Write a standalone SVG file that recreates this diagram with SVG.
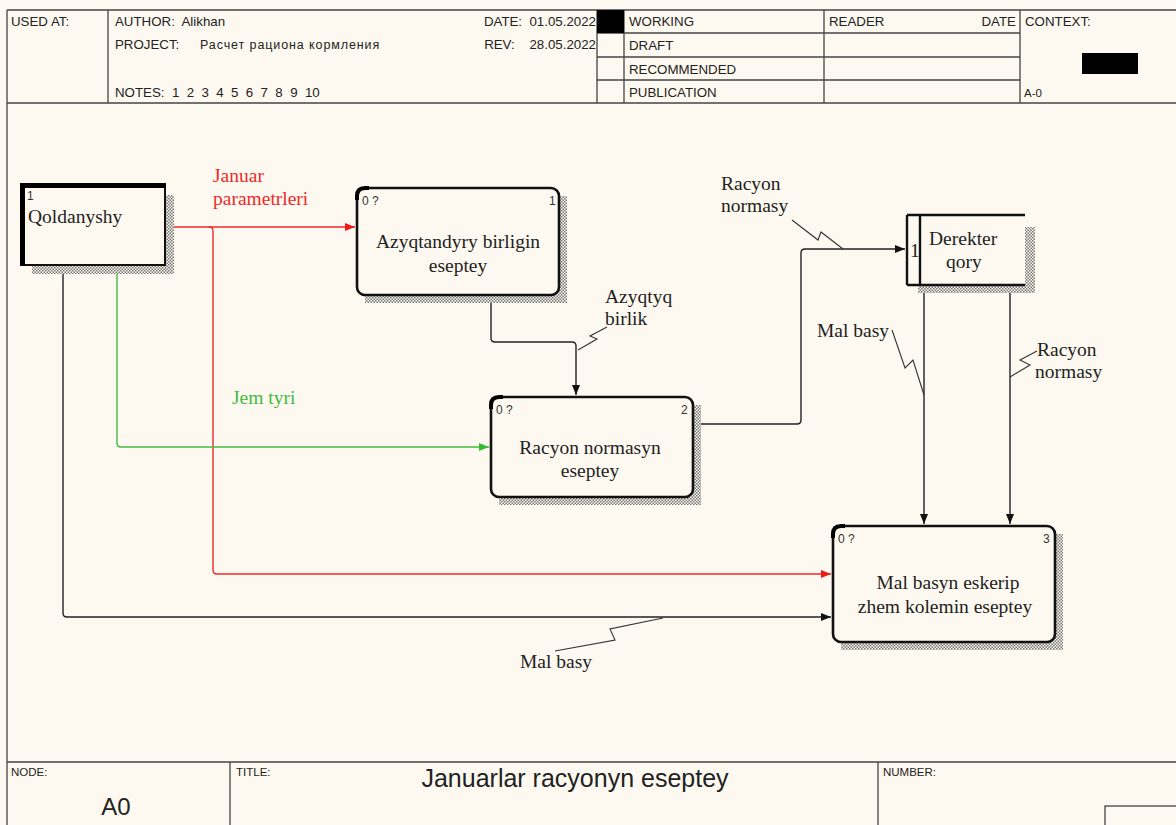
<svg xmlns="http://www.w3.org/2000/svg" width="1176" height="825" viewBox="0 0 1176 825">
<style>
text{white-space:pre}
.hdr{font-family:"Liberation Sans",Arial,sans-serif;font-size:13.3px;fill:#222}
.sm{font-family:"Liberation Sans",Arial,sans-serif;font-size:11.5px;fill:#222}
.ru{font-family:"Liberation Sans",Arial,sans-serif;font-size:12.5px;fill:#222;letter-spacing:0.9px}
.lbl{font-family:"Liberation Serif","Times New Roman",serif;font-size:19.5px;fill:#222}
.nt{font-family:"Liberation Serif","Times New Roman",serif;font-size:19.5px;fill:#222}
.num{font-family:"Liberation Sans",Arial,sans-serif;font-size:12px;fill:#333}
.frame{stroke:#444;stroke-width:1.3;fill:none}
.box{fill:#FDF9F0;stroke:#111;stroke-width:2.6}
.c{fill:none;stroke-width:1.4}
.k{stroke:#222}
.r{stroke:#EE2A2A}
.g{stroke:#44BB44}
.sq{fill:none;stroke:#333;stroke-width:1.1}
</style>
<defs>
<pattern id="hatch" width="3" height="3" patternUnits="userSpaceOnUse">
<rect width="3" height="3" fill="#FDF9F0"/>
<rect width="1.5" height="1.5" fill="#777"/>
<rect x="1.5" y="1.5" width="1.5" height="1.5" fill="#777"/>
</pattern>
<marker id="ak" viewBox="0 0 10 8" refX="10" refY="4" markerWidth="10" markerHeight="8" markerUnits="userSpaceOnUse" orient="auto"><path d="M0,0 L10,4 L0,8 Z" fill="#111"/></marker>
<marker id="ar" viewBox="0 0 10 8" refX="10" refY="4" markerWidth="10" markerHeight="8" markerUnits="userSpaceOnUse" orient="auto"><path d="M0,0 L10,4 L0,8 Z" fill="#EE1A1A"/></marker>
<marker id="ag" viewBox="0 0 10 8" refX="10" refY="4" markerWidth="10" markerHeight="8" markerUnits="userSpaceOnUse" orient="auto"><path d="M0,0 L10,4 L0,8 Z" fill="#33BB33"/></marker>
</defs>
<rect width="1176" height="825" fill="#FDF9F0"/>
<g id="header">
<path class="frame" d="M7,10 H1176 M7,10 V825 M7,103 H1176 M108,10 V103 M597,10 V103 M624,10 V103 M824,10 V103 M1020,10 V103 M597,33 H1020 M597,57 H1020 M597,80 H1020"/>
<rect x="597" y="10" width="27" height="23" fill="#000"/>
<rect x="1082" y="53" width="56" height="21" fill="#000"/>
<text class="hdr" x="11" y="26">USED AT:</text>
<text class="hdr" x="115" y="26">AUTHOR:  Alikhan</text>
<text class="hdr" x="115" y="49">PROJECT:</text>
<text class="ru" x="200" y="49">Расчет рациона кормления</text>
<text class="hdr" x="115" y="97">NOTES:  1  2  3  4  5  6  7  8  9  10</text>
<text class="hdr" x="596" y="26" text-anchor="end">DATE:  01.05.2022</text>
<text class="hdr" x="596" y="49" text-anchor="end">REV:    28.05.2022</text>
<text class="hdr" x="629" y="26">WORKING</text>
<text class="hdr" x="629" y="50">DRAFT</text>
<text class="hdr" x="629" y="74">RECOMMENDED</text>
<text class="hdr" x="629" y="97">PUBLICATION</text>
<text class="hdr" x="829" y="26">READER</text>
<text class="hdr" x="1016" y="26" text-anchor="end">DATE</text>
<text class="hdr" x="1025" y="26">CONTEXT:</text>
<text class="sm" x="1024" y="97">A-0</text>
</g>
<g id="footer">
<path class="frame" d="M7,762 H1176 M230,762 V825 M878,762 V825"/>
<rect x="1105" y="806" width="80" height="30" fill="none" stroke="#444" stroke-width="1.3"/>
<text class="sm" x="11" y="776">NODE:</text>
<text class="sm" x="236" y="776">TITLE:</text>
<text class="sm" x="883" y="776">NUMBER:</text>
<text x="575" y="787" text-anchor="middle" font-family="Liberation Sans,Arial,sans-serif" font-size="25" fill="#222">Januarlar racyonyn eseptey</text>
<text x="116" y="815" text-anchor="middle" font-family="Liberation Sans,Arial,sans-serif" font-size="24" fill="#222">A0</text>
</g>
<g id="connectors">
<path class="c r" d="M166,227 H355" marker-end="url(#ar)"/>
<path class="c r" d="M209,227 Q213,227 213,231 V570 Q213,574 217,574 H831" marker-end="url(#ar)"/>
<path class="c g" d="M117,266 V443 Q117,447 121,447 H489" marker-end="url(#ag)"/>
<path class="c k" d="M63,266 V613 Q63,617 67,617 H831" marker-end="url(#ak)"/>
<path class="c k" d="M491,295 V338 Q491,342 495,342 H572 Q576,342 576,346 V395" marker-end="url(#ak)"/>
<path class="c k" d="M693,424 H797 Q801,424 801,420 V253 Q801,249 805,249 H905" marker-end="url(#ak)"/>
<path class="c k" d="M924,285 V524" marker-end="url(#ak)"/>
<path class="c k" d="M1010,285 V524" marker-end="url(#ak)"/>
<path class="sq" d="M578,350 L597,339 L590,336 L607,327"/>
<path class="sq" d="M792,220 L818,240 L821,232 L843,249"/>
<path class="sq" d="M892,330 L905,368 L913,360 L924,395"/>
<path class="sq" d="M1037,351 L1020,360 L1030,365 L1010,377"/>
<path class="sq" d="M663,618 L610,629 L615,640 L555,651"/>
<text class="lbl" x="213" y="182" style="fill:#EE2A2A">Januar</text>
<text class="lbl" x="213" y="205" style="fill:#EE2A2A">parametrleri</text>
<text class="lbl" x="232" y="404" style="fill:#44BB44">Jem tyri</text>
<text class="lbl" x="605" y="303">Azyqtyq</text>
<text class="lbl" x="605" y="325">birlik</text>
<text class="lbl" x="721" y="190">Racyon</text>
<text class="lbl" x="721" y="212">normasy</text>
<text class="lbl" x="817" y="337">Mal basy</text>
<text class="lbl" x="1037" y="356">Racyon</text>
<text class="lbl" x="1035" y="378">normasy</text>
<text class="lbl" x="520" y="668">Mal basy</text>
</g>
<g id="qoldanyshy">
<rect x="166" y="195" width="8" height="79" fill="url(#hatch)"/>
<rect x="32" y="266" width="142" height="8" fill="url(#hatch)"/>
<rect x="22" y="185" width="143" height="80" fill="#FDF9F0" stroke="#111" stroke-width="2"/>
<path d="M20,185.5 H166 M22.5,183 V266" stroke="#000" stroke-width="5" fill="none"/>
<text class="num" x="27" y="200">1</text>
<text class="nt" x="28" y="223">Qoldanyshy</text>
</g>
<g id="box1">
<rect x="365" y="196" width="202" height="107" fill="url(#hatch)"/>
<rect class="box" x="357" y="188" width="202" height="107" rx="8"/>
<path d="M357,200 V196 Q357,188 365,188 H369" stroke="#000" stroke-width="4" fill="none"/>
<text class="num" x="362" y="205">0 ?</text>
<text class="num" x="549" y="205">1</text>
<text class="nt" x="458" y="248" text-anchor="middle">Azyqtandyry birligin</text>
<text class="nt" x="458" y="272" text-anchor="middle">eseptey</text>
</g>
<g id="box2">
<rect x="499" y="405" width="202" height="100" fill="url(#hatch)"/>
<rect class="box" x="491" y="397" width="202" height="100" rx="8"/>
<path d="M491,409 V405 Q491,397 499,397 H503" stroke="#000" stroke-width="4" fill="none"/>
<text class="num" x="496" y="414">0 ?</text>
<text class="num" x="681" y="414">2</text>
<text class="nt" x="590" y="454" text-anchor="middle">Racyon normasyn</text>
<text class="nt" x="590" y="477" text-anchor="middle">eseptey</text>
</g>
<g id="box3">
<rect x="841" y="534" width="222" height="116" fill="url(#hatch)"/>
<rect class="box" x="833" y="526" width="222" height="116" rx="8"/>
<path d="M833,538 V534 Q833,526 841,526 H845" stroke="#000" stroke-width="4" fill="none"/>
<text class="num" x="838" y="543">0 ?</text>
<text class="num" x="1043" y="543">3</text>
<text class="nt" x="948" y="589" text-anchor="middle">Mal basyn eskerip</text>
<text class="nt" x="945" y="613" text-anchor="middle">zhem kolemin eseptey</text>
</g>
<g id="derekter">
<rect x="1025" y="227" width="10" height="66" fill="url(#hatch)"/>
<rect x="918" y="285" width="117" height="8" fill="url(#hatch)"/>
<rect x="907" y="215" width="118" height="70" fill="#FDF9F0"/>
<path d="M907,215 H1025 M907,285 H1025 M907,215 V285 M920,215 V285" stroke="#111" stroke-width="2.4" fill="none"/>
<text class="nt" x="910" y="257">1</text>
<text class="nt" x="929" y="245">Derekter</text>
<text class="nt" x="946" y="268">qory</text>
</g>
</svg>
